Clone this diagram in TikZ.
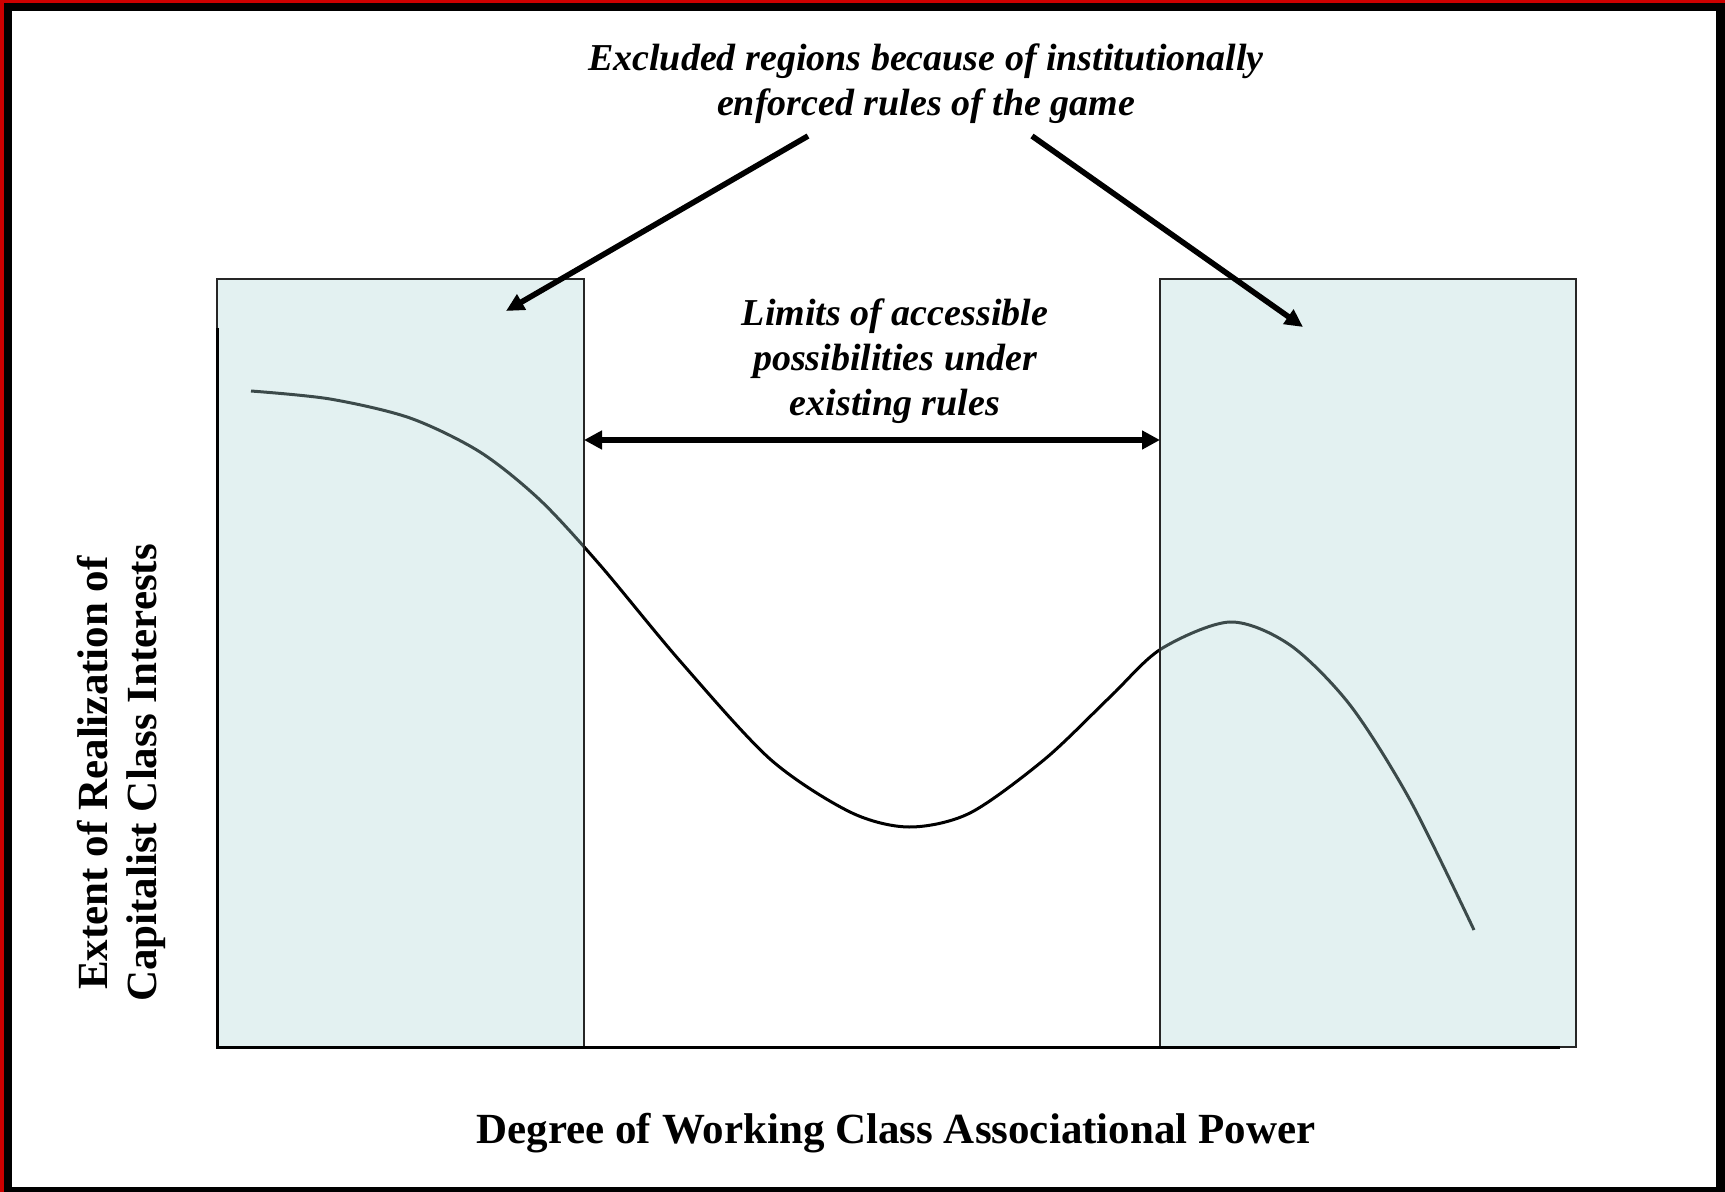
\documentclass[tikz,border=0pt]{standalone}
\usepackage{fontspec}
\setmainfont{Liberation Serif}
\usepackage{xcolor}
\usetikzlibrary{shapes,arrows,arrows.meta}
\usetikzlibrary{positioning}
\definecolor{boxcyan}{RGB}{174,217,217}
\definecolor{framered}{RGB}{204,0,0}

\begin{document}
\begin{tikzpicture}[x=0.5pt, y=-0.5pt,
		region/.style={
				rectangle,
				draw=black!85,
				line width=0.6pt,
				fill=boxcyan,
				fill opacity=0.345,
				inner sep=0pt,
				outer sep=0pt,
				minimum height=384pt
			},
		note/.style={align=center, font=\fontsize{19}{22.5}\selectfont\bfseries\itshape},
		axislabel/.style={align=center, font=\fontsize{21.5}{24.5}\selectfont\bfseries},
		line/.style={draw, line width=2.8pt, -{Triangle[length=9pt, width=8.5pt]}}
	]
	% Frame
	\useasboundingbox (0,0) rectangle (1725,1192);
	\fill[framered] (0,0) rectangle (1725,1192);
	\fill[black] (4,3) rectangle (1725,1192);
	\fill[white] (12,11) rectangle (1716,1187);
	% Curve
	\draw[line width=1.5pt] plot[smooth, tension=0.5] coordinates {(251,391) (330,399) (410,418) (480,452) (540,500) (600,565) (680,661) (770,759) (850,812) (909,827) (970,813) (1045,759) (1110,697) (1161,649) (1230,622) (1290,645) (1350,705) (1410,800) (1474,930)};
	% Place nodes
	\node [region, minimum width=183.5pt] (leftregion) at (400.5,663) {};
	\node [region, minimum width=208pt] (rightregion) at (1368,663) {};
	\node [note] (excluded) at (926,84) {Excluded regions because of institutionally\\enforced rules of the game};
	\node [note] (limits) at (895,361) {Limits of accessible\\possibilities under\\existing rules};
	\node [axislabel] (xlabel) at (896,1133) {Degree of Working Class Associational Power};
	\node [axislabel, rotate=90] (ylabel) at (121,773) {Extent of Realization of\\Capitalist Class Interests};
	\coordinate (origin) at (217,1047);
	\coordinate (ytop) at (217,328);
	\coordinate (xend) at (1560,1047);
	\coordinate (span) at (0,440);
	\coordinate (startl) at (808,136);
	\coordinate (startr) at (1032,136);
	\coordinate (tipl) at (506,311);
	\coordinate (tipr) at (1303,327);
	% Draw edges
	\draw [line width=1.5pt] (ytop) -- (origin) -- (xend);
	\path [line] (startl) -- (tipl);
	\path [line] (startr) -- (tipr);
	\path [line, line width=3.2pt, {Triangle[length=9pt, width=9pt]}-{Triangle[length=9pt, width=9pt]}] (leftregion.east |- span) -- (rightregion.west |- span);
\end{tikzpicture}
\end{document}
